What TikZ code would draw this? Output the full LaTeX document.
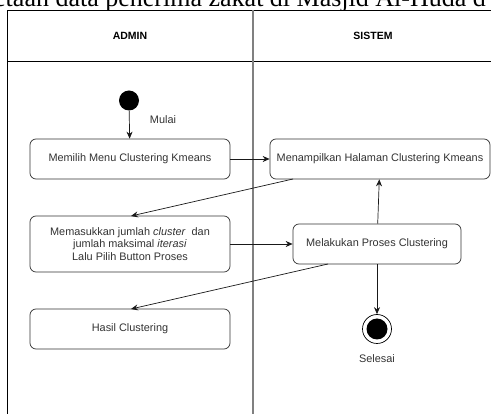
\documentclass[tikz,border=0pt]{standalone}
\usepackage{fontspec}
\setmainfont{Liberation Sans}
\newfontfamily\serifcap{Liberation Serif}
\usetikzlibrary{arrows.meta}
\begin{document}
\begin{tikzpicture}[x=1pt,y=-1pt,
  act/.style={draw=black!80,line width=0.7pt,rounded corners=6pt,minimum height=40pt,align=center,font=\fontsize{10.9}{12.8}\selectfont,text=black!80,inner sep=1pt},
  flow/.style={-{Stealth[length=7pt,width=6pt]},line width=0.7pt,draw=black!90},
  lbl/.style={font=\fontsize{10.9}{12.8}\selectfont,text=black!80,inner sep=0pt}]
\useasboundingbox (0,0) rectangle (491,414);
% cropped caption
\node[anchor=base west,inner sep=0pt,font=\serifcap\fontsize{26}{28}\selectfont] (cap) at (-6,7) {etaan data penerima zakat di Masjid Al-Huda d};
% swimlanes
\fill[white] (7,10) rectangle (495,420);
\draw[line width=0.8pt] (7,420) -- (7,10) -- (495,10);
\draw[line width=0.8pt] (7,61) -- (495,61);
\draw[line width=1.6pt,draw=black!50] (253,10) -- (253,420);
\node[font=\bfseries\fontsize{10.5}{12}\selectfont] (admin) at (130,35.5) {ADMIN};
\node[font=\bfseries\fontsize{10.5}{12}\selectfont] (sistem) at (373,35.5) {SISTEM};
% start
\node[circle,fill=black,minimum size=20pt,inner sep=0pt] (start) at (129,100.5) {};
\node[lbl] (mulai) at (163,120) {Mulai};
% activities
\node[act,minimum width=200pt] (b1) at (130,159) {Memilih Menu Clustering Kmeans};
\node[act,minimum width=220pt] (b2) at (380,159) {Menampilkan Halaman Clustering Kmeans};
\node[act,minimum width=200pt,minimum height=56pt] (b3) at (130,244) {Memasukkan jumlah \textit{cluster}\ \ dan\\jumlah maksimal \textit{iterasi}\\Lalu Pilih Button Proses};
\node[act,minimum width=168pt] (b4) at (377,244) {Melakukan Proses Clustering};
\node[act,minimum width=200pt] (b5) at (130,329) {Hasil Clustering};
% end
\node[circle,draw=black,line width=0.7pt,minimum size=29pt,inner sep=0pt] (end) at (377,329) {};
\node[circle,fill=black,minimum size=21pt,inner sep=0pt] (endin) at (end.center) {};
\node[lbl] (selesai) at (377,359) {Selesai};
% flows
\draw[flow] (start) -- (b1);
\draw[flow] (b1) -- (b2);
\coordinate (b2o) at (293,179);
\coordinate (b3i) at (131,216);
\draw[flow] (b2o) -- (b3i);
\draw[flow] (b3) -- (b4);
\draw[flow] (b4) -- (b2);
\coordinate (b4o) at (328,264);
\coordinate (b5i) at (131,309);
\draw[flow] (b4o) -- (b5i);
\draw[flow] (b4) -- (end);
\end{tikzpicture}
\end{document}
